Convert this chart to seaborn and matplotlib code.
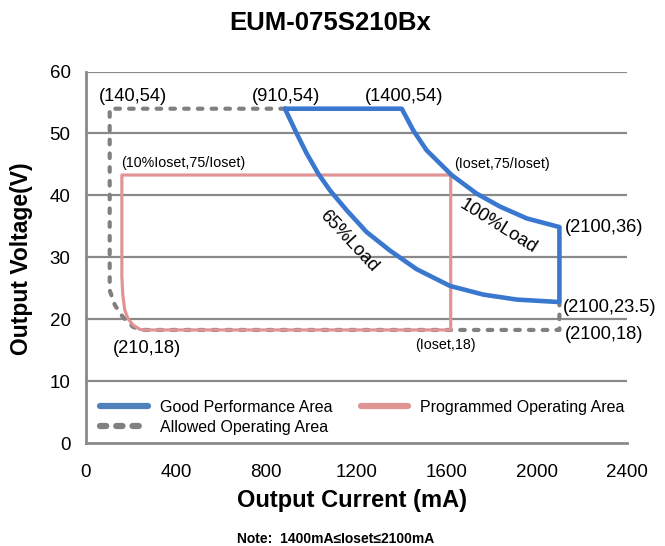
import numpy as np
import pandas as pd
import matplotlib
matplotlib.use("Agg")
import matplotlib.pyplot as plt
from matplotlib.lines import Line2D
import seaborn as sns

# ---- data ----
# Good Performance Area: top edge, 100% load curve, right edge, 65% load curve
x_good = [883, 1401, 1452, 1511, 1622, 1733, 1837, 1955, 2100,
          2100, 1911, 1763, 1615, 1467, 1349, 1245, 1157, 1083, 1031, 979, 935, 883]
y_good = [54.0, 54.0, 50.5, 47.3, 43.3, 40.3, 38.2, 36.3, 34.9,
          22.8, 23.2, 24.0, 25.4, 28.1, 31.1, 34.1, 37.6, 40.8, 43.5, 46.8, 50.0, 54.0]

# Programmed Operating Area (rounded lower-left corner)
x_prog = [1618, 160, 160, 164, 173, 186, 209, 240, 260, 1618, 1618]
y_prog = [43.3, 43.3, 26.9, 24.0, 21.5, 20.2, 19.1, 18.4, 18.3, 18.3, 43.3]

# Allowed Operating Area (dashed)
x_allowed = [883, 106, 106, 129, 164, 209, 248, 2100, 2100]
y_allowed = [54.0, 54.0, 24.7, 22.3, 20.4, 18.8, 18.3, 18.3, 22.6]

x_ticks = [0, 400, 800, 1200, 1600, 2000, 2400]
y_ticks = [0, 10, 20, 30, 40, 50, 60]

series_names = ["Good Performance Area", "Programmed Operating Area", "Allowed Operating Area"]

BLUE = "#3a78cf"
PINK = "#e09494"
GRAY = "#808080"

sns.set_theme(style="white")
plt.rcParams["font.family"] = ["Liberation Sans", "DejaVu Sans"]
plt.rcParams["text.color"] = "black"

fig = plt.figure(figsize=(6.65, 5.46), dpi=100)
ax = fig.add_axes([0.129, 0.188, 0.814, 0.681])

# grid lines
for yv in y_ticks[1:]:
    ax.axhline(yv, color="#8a8a8a", lw=1.6, zorder=0)

df_allowed = pd.DataFrame({"x": x_allowed, "y": y_allowed})
sns.lineplot(data=df_allowed, x="x", y="y", sort=False, estimator=None, ax=ax,
             color=GRAY, lw=3.0, zorder=2)
ln = ax.lines[-1]
ln.set_linestyle((0, (1.1, 2.2)))
ln.set_dash_capstyle("round")

df_prog = pd.DataFrame({"x": x_prog, "y": y_prog})
sns.lineplot(data=df_prog, x="x", y="y", sort=False, estimator=None, ax=ax,
             color=PINK, lw=2.3, zorder=3)

df_good = pd.DataFrame({"x": x_good, "y": y_good})
sns.lineplot(data=df_good, x="x", y="y", sort=False, estimator=None, ax=ax,
             color=BLUE, lw=3.3, zorder=4)
ax.lines[-1].set_solid_joinstyle("round")

ax.set_xlim(0, 2400)
ax.set_ylim(0, 60)
ax.set_xticks(x_ticks)
ax.set_yticks(y_ticks)
ax.set_xticklabels([str(v) for v in x_ticks], fontsize=13.5)
ax.set_yticklabels([str(v) for v in y_ticks], fontsize=13.5)
ax.set_xlabel("")
ax.set_ylabel("")
ax.tick_params(axis="x", direction="in", length=6, width=1.5, color=GRAY, pad=15,
               labelcolor="black")
ax.tick_params(axis="y", length=0, pad=11, labelcolor="black")
for s in ["top", "right"]:
    ax.spines[s].set_visible(False)
for s in ["left", "bottom"]:
    ax.spines[s].set_color("#8a8a8a")
    ax.spines[s].set_linewidth(2.0)

# annotations
fs = 13.2
sfs = 10.3
ax.text(210, 56.0, "(140,54)", ha="center", va="center", fontsize=fs)
ax.text(886, 56.0, "(910,54)", ha="center", va="center", fontsize=fs)
ax.text(1413, 56.0, "(1400,54)", ha="center", va="center", fontsize=fs)
ax.text(158, 45.2, "(10%Ioset,75/Ioset)", ha="left", va="center", fontsize=sfs)
ax.text(1633, 45.0, "(Ioset,75/Ioset)", ha="left", va="center", fontsize=sfs)
ax.text(2125, 34.9, "(2100,36)", ha="left", va="center", fontsize=fs)
ax.text(2115, 22.0, "(2100,23.5)", ha="left", va="center", fontsize=fs)
ax.text(2125, 17.5, "(2100,18)", ha="left", va="center", fontsize=fs)
ax.text(272, 15.3, "(210,18)", ha="center", va="center", fontsize=fs)
ax.text(1593, 15.9, "(Ioset,18)", ha="center", va="center", fontsize=sfs)
ax.text(1165, 32.6, "65%Load", ha="center", va="center", fontsize=fs, rotation=-47,
        rotation_mode="anchor")
ax.text(1828, 35.0, "100%Load", ha="center", va="center", fontsize=fs, rotation=-32,
        rotation_mode="anchor")

# legend
handles = [
    Line2D([], [], color="#4f81bd", lw=4.5, solid_capstyle="round"),
    Line2D([], [], color=GRAY, lw=4.5, linestyle=(0, (1.0, 1.6)), dash_capstyle="round"),
    Line2D([], [], color=PINK, lw=4.5, solid_capstyle="round"),
]
labels = [series_names[0], series_names[2], series_names[1]]
ax.legend(handles, labels, ncol=2, loc="lower left", bbox_to_anchor=(0.0, -0.015),
          frameon=False, fontsize=11.5, handlelength=3.0, handletextpad=0.75,
          columnspacing=1.75, labelspacing=0.3)

# titles
fig.text(0.497, 0.958, "EUM-075S210Bx", ha="center", va="center", fontsize=18.5,
         fontweight="bold")
fig.text(0.53, 0.084, "Output Current (mA)", ha="center", va="center", fontsize=17,
         fontweight="bold")
fig.text(0.033, 0.527, "Output Voltage(V)", ha="center", va="center", fontsize=16.5,
         fontweight="bold", rotation=90)
fig.text(0.505, 0.013, "Note:  1400mA\u2264Ioset\u22642100mA", ha="center", va="center",
         fontsize=10, fontweight="bold", family=["Liberation Sans", "DejaVu Sans"])

fig.savefig("out.png", dpi=100)
